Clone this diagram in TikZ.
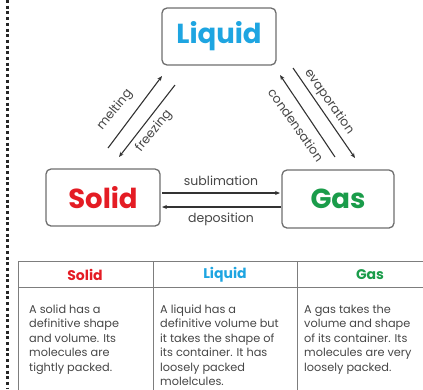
\documentclass[tikz,border=0pt]{standalone}
\usepackage{fontspec}
\setmainfont{Poppins}
\usetikzlibrary{arrows.meta}
\definecolor{liq}{RGB}{30,165,225}
\definecolor{sol}{RGB}{228,28,36}
\definecolor{gasc}{RGB}{26,156,74}
\definecolor{frame}{RGB}{110,110,110}
\definecolor{ink}{RGB}{70,70,70}
\definecolor{rule}{RGB}{125,125,125}
\begin{document}
\begin{tikzpicture}[x=1pt,y=-1pt,
  statebox/.style={draw=frame,line width=1.3pt,rounded corners=5pt,fill=white,
    font=\fontsize{27.5}{30}\selectfont\bfseries,inner sep=0pt},
  change/.style={draw=black!80,line width=1.1pt,-{Stealth[length=5pt,width=4pt]}},
  lbl/.style={font=\fontsize{12.5}{14}\selectfont,text=ink,inner sep=0pt},
  head/.style={font=\fontsize{14}{16}\selectfont\bfseries,inner sep=0pt},
  cell/.style={font=\fontsize{11.3}{14.5}\selectfont,text=ink,align=left,inner sep=0pt,anchor=north west}]
\useasboundingbox (0,0) rectangle (423,389);

% dotted margin on the left
\draw[line width=3pt,dash pattern=on 3pt off 2.7pt,black!85] (7,0) -- (7,389);

% the three states
\node[statebox,minimum width=114pt,minimum height=57pt,text=liq] (liquid) at (219,36.5) {Liquid};
\node[statebox,minimum width=114pt,minimum height=57pt,text=sol] (solid) at (103,197.5) {Solid};
\node[statebox,minimum width=112pt,minimum height=58pt,text=gasc] (gas) at (338,199) {Gas};

% end points of the transitions
\coordinate (mA) at (108,148); \coordinate (mB) at (162,76);
\coordinate (fA) at (175,85);  \coordinate (fB) at (119,157);
\coordinate (eA) at (293,68);  \coordinate (eB) at (355,158);
\coordinate (cA) at (335,157); \coordinate (cB) at (280,75);
\coordinate (sA) at (162,193); \coordinate (sB) at (280,193);
\coordinate (dA) at (281,207); \coordinate (dB) at (162,207);

\draw[change] (mA) -- (mB);
\draw[change] (fA) -- (fB);
\draw[change] (eA) -- (eB);
\draw[change] (cA) -- (cB);
\draw[change] (sA) -- (sB);
\draw[change] (dA) -- (dB);

\node[lbl,rotate=51] (melt) at (115,110) {melting};
\node[lbl,rotate=51] (freeze) at (154,131) {freezing};
\node[lbl,rotate=-55] (evap) at (329,102) {evaporation};
\node[lbl,rotate=-55] (cond) at (296,125) {condensation};
\node[lbl] (subl) at (221,181) {sublimation};
\node[lbl] (depo) at (221,219) {deposition};

% summary table
\draw[rule,line width=0.9pt] (445,261) -- (18,261) -- (18,392);
\draw[rule,line width=0.9pt] (18,287) -- (445,287);
\draw[rule,line width=0.9pt] (153,261) -- (153,392);
\draw[rule,line width=0.9pt] (297,261) -- (297,392);

\node[head,text=sol] (hs) at (85,274.5) {Solid};
\node[head,text=liq] (hl) at (225,274.5) {Liquid};
\node[head,text=gasc] (hg) at (370,274.5) {Gas};

\node[cell] (ts) at (29,304.5) {A solid has a\\definitive shape\\and volume. Its\\molecules are\\tightly packed.};
\node[cell] (tl) at (160,304.5) {A liquid has a\\definitive volume but\\it takes the shape of\\its container. It has\\loosely packed\\molelcules.};
\node[cell] (tg) at (304,304.5) {A gas takes the\\volume and shape\\of its container. Its\\molecules are very\\loosely packed.};
\end{tikzpicture}
\end{document}
